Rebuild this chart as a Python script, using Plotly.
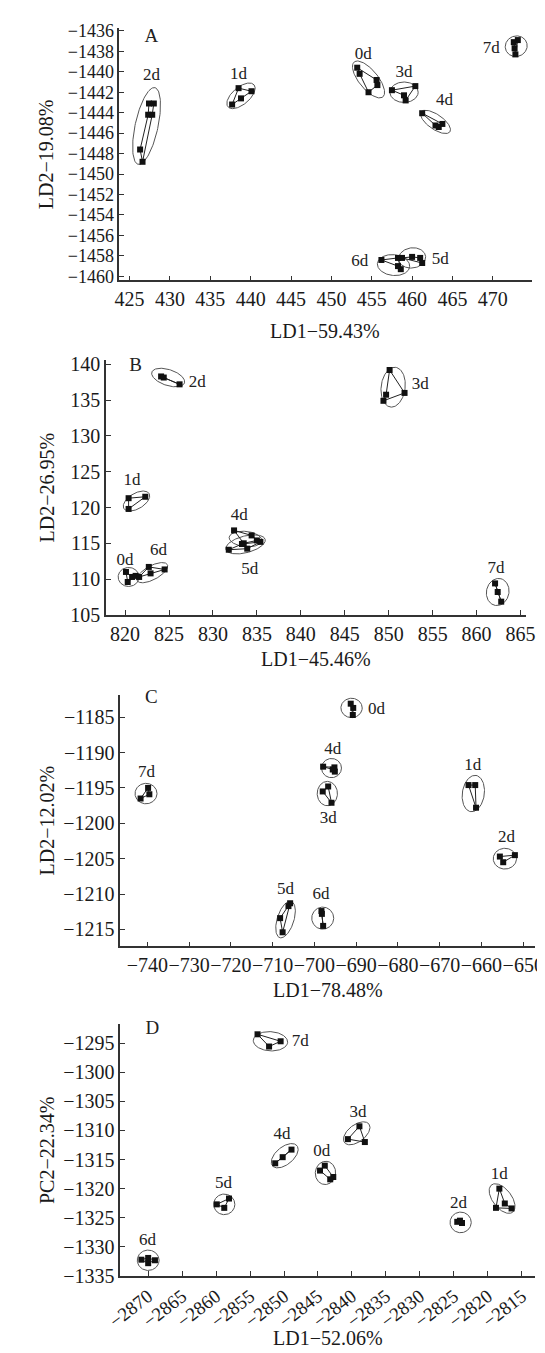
import numpy as np
import plotly.graph_objects as go

W, H = 545, 1353
FONT = "Liberation Serif"

# ---------------- Panel A ----------------
A_groups = ["0d", "1d", "2d", "3d", "4d", "5d", "6d", "7d"]
A_px = [[453.2, 455.6, 455.7, 454.6, 453.5],
        [437.7, 438.5, 440.1, 438.8],
        [427.4, 428.0, 427.8, 426.6, 426.3, 427.3],
        [457.5, 460.4, 459.2, 459.0],
        [461.25, 463.75, 463.3, 462.9],
        [458.75, 460.0, 461.0, 461.25],
        [456.2, 458.25, 458.6, 458.25],
        [473.1, 472.6, 472.7, 472.8]]
A_py = [[-1439.6, -1440.8, -1441.3, -1442.0, -1440.2],
        [-1443.2, -1441.6, -1441.9, -1442.6],
        [-1443.1, -1443.1, -1444.2, -1448.8, -1447.6, -1444.2],
        [-1441.8, -1441.4, -1442.8, -1442.3],
        [-1444.05, -1445.1, -1445.4, -1445.25],
        [-1458.2, -1458.1, -1458.2, -1458.7],
        [-1458.4, -1458.2, -1459.3, -1459.0],
        [-1436.9, -1437.1, -1437.7, -1438.3]]
A_ell_cx = [454.6, 438.8, 427.1, 459.0, 462.9, 460.0, 457.7, 472.9]
A_ell_cy = [-1440.75, -1442.35, -1445.3, -1442.0, -1444.9, -1458.2, -1458.9, -1437.5]
A_ell_ux = [1.79, 1.63, 1.04, 1.75, 1.79, 1.67, 2.0, 1.33]
A_ell_uy = [-1.70, 1.06, 3.75, 0.0, -0.96, 0.16, -0.16, 0.26]
A_ell_ratio = [0.42, 0.5, 0.3, 0.7, 0.42, 0.72, 0.62, 0.9]
A_lab_x = [453.96, 438.5, 427.7, 459.0, 464.0, 463.5, 453.5, 469.8]
A_lab_y = [-1438.3, -1440.3, -1440.4, -1440.1, -1442.8, -1458.4, -1458.55, -1437.7]
A_xticks = [425, 430, 435, 440, 445, 450, 455, 460, 465, 470]
A_xticktext = ["425", "430", "435", "440", "445", "450", "455", "460", "465", "470"]
A_yticks = [-1436, -1438, -1440, -1442, -1444, -1446, -1448, -1450, -1452, -1454, -1456, -1458, -1460]
A_yticktext = ["−1436", "−1438", "−1440", "−1442", "−1444", "−1446", "−1448", "−1450",
               "−1452", "−1454", "−1456", "−1458", "−1460"]

# ---------------- Panel B ----------------
B_groups = ["0d", "1d", "2d", "3d", "4d", "5d", "6d", "7d"]
B_px = [[820.1, 820.8, 821.2, 820.3],
        [820.4, 822.3, 820.4],
        [824.1, 824.4, 826.2],
        [850.1, 851.8, 849.4, 849.7],
        [832.4, 834.4, 835.0, 833.5],
        [831.8, 833.3, 835.4, 833.9],
        [821.6, 822.7, 824.5, 822.9],
        [862.1, 862.4, 862.8]]
B_py = [[111.0, 110.3, 110.45, 109.6],
        [121.3, 121.5, 119.8],
        [138.3, 138.15, 137.2],
        [139.2, 136.0, 134.9, 135.75],
        [116.8, 116.1, 115.4, 115.0],
        [114.1, 114.9, 115.2, 114.25],
        [110.3, 111.7, 111.35, 110.8],
        [109.4, 108.2, 106.85]]
B_ell_cx = [820.4, 821.3, 824.9, 850.5, 833.7, 833.7, 823.1, 862.4]
B_ell_cy = [110.3, 120.9, 138.15, 136.8, 115.6, 114.85, 110.9, 108.2]
B_ell_ux = [1.19, 1.45, 1.86, 0.3, 1.86, 2.24, 1.715, 0.37]
B_ell_uy = [0.0, 1.02, -0.74, 2.77, -0.23, 0.69, 1.11, 1.85]
B_ell_ratio = [0.88, 0.52, 0.45, 0.62, 0.45, 0.4, 0.4, 0.85]
B_lab_x = [820.0, 820.8, 828.2, 853.6, 833.0, 834.2, 823.8, 862.2]
B_lab_y = [112.6, 123.7, 137.4, 137.1, 118.9, 111.3, 114.0, 111.5]
B_xticks = [820, 825, 830, 835, 840, 845, 850, 855, 860, 865]
B_xticktext = ["820", "825", "830", "835", "840", "845", "850", "855", "860", "865"]
B_yticks = [105, 110, 115, 120, 125, 130, 135, 140]
B_yticktext = ["105", "110", "115", "120", "125", "130", "135", "140"]

# ---------------- Panel C ----------------
C_groups = ["0d", "1d", "2d", "3d", "4d", "5d", "6d", "7d"]
C_px = [[-691.3, -690.7, -690.8],
        [-663.1, -661.5, -661.3],
        [-655.6, -652.0, -654.8],
        [-698.0, -696.7, -695.9],
        [-697.9, -695.2, -695.1, -695.6],
        [-708.2, -706.2, -705.8, -707.6],
        [-698.3, -698.2, -697.9],
        [-741.6, -739.8, -739.5]]
C_py = [[-1183.1, -1183.7, -1184.7],
        [-1194.6, -1194.6, -1197.8],
        [-1204.7, -1204.5, -1205.5],
        [-1195.5, -1194.8, -1197.1],
        [-1192.0, -1192.1, -1192.7, -1192.4],
        [-1213.4, -1211.7, -1211.3, -1215.4],
        [-1212.4, -1212.8, -1214.5],
        [-1196.5, -1195.0, -1195.9]]
C_ell_cx = [-691.1, -661.95, -654.4, -696.9, -695.9, -706.9, -698.0, -740.3]
C_ell_cy = [-1183.7, -1195.8, -1205.0, -1195.8, -1192.2, -1213.6, -1213.4, -1195.8]
C_ell_ux = [2.55, 0.64, 2.79, 0.0, 2.39, 1.40, 2.63, 2.63]
C_ell_uy = [0.0, 2.56, 0.0, 1.72, 0.0, 2.56, 0.0, 0.0]
C_ell_ratio = [0.88, 0.62, 0.86, 0.86, 0.93, 0.45, 0.97, 0.9]
C_lab_x = [-685.1, -662.1, -654.0, -696.7, -695.6, -706.9, -698.4, -740.2]
C_lab_y = [-1183.9, -1191.9, -1202.1, -1199.3, -1189.6, -1209.4, -1210.1, -1192.9]
C_xticks = [-740, -730, -720, -710, -700, -690, -680, -670, -660, -650]
C_xticktext = ["−740", "−730", "−720", "−710", "−700", "−690", "−680", "−670", "−660", "−650"]
C_yticks = [-1185, -1190, -1195, -1200, -1205, -1210, -1215]
C_yticktext = ["−1185", "−1190", "−1195", "−1200", "−1205", "−1210", "−1215"]

# ---------------- Panel D ----------------
D_groups = ["0d", "1d", "2d", "3d", "4d", "5d", "6d", "7d"]
D_px = [[-2844.7, -2844.0, -2842.75, -2843.2],
        [-2818.3, -2817.5, -2816.5, -2818.8],
        [-2824.5, -2824.1, -2823.8],
        [-2840.6, -2838.9, -2838.1],
        [-2851.3, -2850.2, -2848.9],
        [-2859.9, -2858.1, -2858.8],
        [-2871.0, -2870.0, -2869.0, -2870.0],
        [-2853.9, -2850.5, -2852.2]]
D_py = [[-1316.9, -1316.05, -1318.0, -1318.4],
        [-1320.0, -1322.55, -1323.4, -1323.3],
        [-1325.7, -1325.5, -1325.9],
        [-1311.5, -1309.3, -1312.0],
        [-1315.65, -1314.6, -1313.3],
        [-1322.7, -1321.7, -1323.3],
        [-1332.2, -1331.9, -1332.3, -1332.8],
        [-1293.5, -1294.7, -1295.6]]
D_ell_cx = [-2843.9, -2817.9, -2824.0, -2839.3, -2849.9, -2858.8, -2870.0, -2852.0]
D_ell_cy = [-1317.3, -1321.7, -1325.8, -1310.5, -1314.35, -1322.7, -1332.3, -1294.7]
D_ell_ux = [0.24, 1.58, 1.56, 1.82, 1.82, 1.56, 1.61, 2.53]
D_ell_uy = [1.98, -2.32, 0.0, 1.56, 1.70, 0.0, 0.0, -0.17]
D_ell_ratio = [0.9, 0.55, 0.94, 0.55, 0.55, 0.94, 0.9, 0.54]
D_lab_x = [-2844.45, -2818.3, -2824.3, -2839.1, -2850.3, -2858.9, -2870.1, -2847.6]
D_lab_y = [-1313.7, -1317.6, -1322.55, -1307.0, -1310.8, -1319.2, -1328.9, -1294.8]
D_xticks = [-2870, -2865, -2860, -2855, -2850, -2845, -2840, -2835, -2830, -2825, -2820, -2815]
D_xticktext = ["−2870", "−2865", "−2860", "−2855", "−2850", "−2845", "−2840", "−2835",
               "−2830", "−2825", "−2820", "−2815"]
D_yticks = [-1295, -1300, -1305, -1310, -1315, -1320, -1325, -1330, -1335]
D_yticktext = ["−1295", "−1300", "−1305", "−1310", "−1315", "−1320", "−1325", "−1330", "−1335"]

panel_letters = ["A", "B", "C", "D"]
letter_x = [427.7, 821.2, -739.0, -2869.4]
letter_y = [-1436.6, 139.7, -1182.4, -1292.7]
x_titles = ["LD1−59.43%", "LD1−45.46%", "LD1−78.48%", "LD1−52.06%"]
y_titles = ["LD2−19.08%", "LD2−26.95%", "LD2−12.02%", "PC2−22.34%"]

# ---------------- layout geometry (pixels) ----------------
dom_x_px = [(101, 533), (87, 527), (102, 537), (102, 537)]
dom_y_px = [(13.5, 269), (350, 608), (689, 944), (1023, 1278)]
x_ranges = [(423.73, 474.8), (817.83, 865.6), (-746.45, -647.1), (-2874.1, -2813.0)]
y_ranges = [(-1460.4, -1435.75), (105.0, 140.55), (-1217.4, -1181.85), (-1335.0, -1291.8)]
xtitle_y_px = [320, 653, 988, 1341]
ytitle_x_px = 25
ytick_sizes = [18, 20, 20, 20]
xtick_sizes = [20, 20, 20, 19]
xtick_angles = [0, 0, 0, -38]

panels = [
    (A_px, A_py, A_ell_cx, A_ell_cy, A_ell_ux, A_ell_uy, A_ell_ratio, A_groups, A_lab_x, A_lab_y,
     A_xticks, A_xticktext, A_yticks, A_yticktext),
    (B_px, B_py, B_ell_cx, B_ell_cy, B_ell_ux, B_ell_uy, B_ell_ratio, B_groups, B_lab_x, B_lab_y,
     B_xticks, B_xticktext, B_yticks, B_yticktext),
    (C_px, C_py, C_ell_cx, C_ell_cy, C_ell_ux, C_ell_uy, C_ell_ratio, C_groups, C_lab_x, C_lab_y,
     C_xticks, C_xticktext, C_yticks, C_yticktext),
    (D_px, D_py, D_ell_cx, D_ell_cy, D_ell_ux, D_ell_uy, D_ell_ratio, D_groups, D_lab_x, D_lab_y,
     D_xticks, D_xticktext, D_yticks, D_yticktext),
]

fig = go.Figure()
layout = dict(width=W, height=H, margin=dict(l=0, r=0, t=0, b=0),
              paper_bgcolor="white", plot_bgcolor="white", showlegend=False,
              font=dict(family=FONT, color="#1a1a1a"))
annotations = []
t = np.linspace(0, 2 * np.pi, 121)

for i, (px, py, ecx, ecy, eux, euy, erat, groups, lx, ly, xt, xtt, yt, ytt) in enumerate(panels):
    suf = "" if i == 0 else str(i + 1)
    xa, ya = "x" + suf, "y" + suf
    (x0p, x1p), (y0p, y1p) = dom_x_px[i], dom_y_px[i]
    (xr0, xr1), (yr0, yr1) = x_ranges[i], y_ranges[i]
    sx = (x1p - x0p) / (xr1 - xr0)
    sy = (y1p - y0p) / (yr1 - yr0)

    # ellipses
    ex, ey = [], []
    for k in range(len(ecx)):
        ux_p, uy_p = eux[k] * sx, euy[k] * sy
        vx_p, vy_p = -uy_p * erat[k], ux_p * erat[k]
        vx, vy = vx_p / sx, vy_p / sy
        ex += list(ecx[k] + eux[k] * np.cos(t) + vx * np.sin(t)) + [None]
        ey += list(ecy[k] + euy[k] * np.cos(t) + vy * np.sin(t)) + [None]
    fig.add_trace(go.Scatter(x=ex, y=ey, mode="lines", xaxis=xa, yaxis=ya, cliponaxis=False,
                             line=dict(color="#555", width=1), hoverinfo="skip"))

    # connecting polygons + points
    lxs, lys, mx, my = [], [], [], []
    for k in range(len(px)):
        lxs += list(px[k]) + [px[k][0], None]
        lys += list(py[k]) + [py[k][0], None]
        mx += list(px[k])
        my += list(py[k])
    fig.add_trace(go.Scatter(x=lxs, y=lys, mode="lines", xaxis=xa, yaxis=ya, cliponaxis=False,
                             line=dict(color="#222", width=1), hoverinfo="skip"))
    fig.add_trace(go.Scatter(x=mx, y=my, mode="markers", xaxis=xa, yaxis=ya, cliponaxis=False,
                             marker=dict(symbol="square", size=6, color="#111"), hoverinfo="skip"))
    # group labels
    fig.add_trace(go.Scatter(x=lx, y=ly, mode="text", text=groups, xaxis=xa, yaxis=ya,
                             cliponaxis=False,
                             textfont=dict(family=FONT, size=17, color="#222"), hoverinfo="skip"))
    # panel letter
    fig.add_trace(go.Scatter(x=[letter_x[i]], y=[letter_y[i]], mode="text", text=[panel_letters[i]],
                             xaxis=xa, yaxis=ya, cliponaxis=False,
                             textfont=dict(family=FONT, size=19, color="#222"), hoverinfo="skip"))

    axis_common = dict(showline=True, linecolor="#333", linewidth=1.5, ticks="inside",
                       ticklen=5, tickwidth=1.2, tickcolor="#333", showgrid=False, zeroline=False,
                       mirror=False)
    layout["xaxis" + suf] = dict(axis_common, domain=[x0p / W, x1p / W], range=[xr0, xr1],
                                 anchor=ya, tickmode="array", tickvals=xt, ticktext=xtt,
                                 tickangle=xtick_angles[i],
                                 tickfont=dict(family=FONT, size=xtick_sizes[i], color="#1a1a1a"))
    layout["yaxis" + suf] = dict(axis_common, domain=[1 - y1p / H, 1 - y0p / H], range=[yr0, yr1],
                                 anchor=xa, tickmode="array", tickvals=yt, ticktext=ytt,
                                 tickfont=dict(family=FONT, size=ytick_sizes[i], color="#1a1a1a"))
    annotations.append(dict(text=x_titles[i], xref="paper", yref="paper",
                            x=(x0p + x1p) / 2 / W, y=1 - xtitle_y_px[i] / H,
                            showarrow=False, font=dict(family=FONT, size=20, color="#1a1a1a"),
                            xanchor="center", yanchor="middle"))
    annotations.append(dict(text=y_titles[i], xref="paper", yref="paper",
                            x=ytitle_x_px / W, y=1 - (y0p + y1p) / 2 / H, textangle=-90,
                            showarrow=False, font=dict(family=FONT, size=20, color="#1a1a1a"),
                            xanchor="center", yanchor="middle"))

layout["annotations"] = annotations
fig.update_layout(**layout)
fig.write_html("out.html")
